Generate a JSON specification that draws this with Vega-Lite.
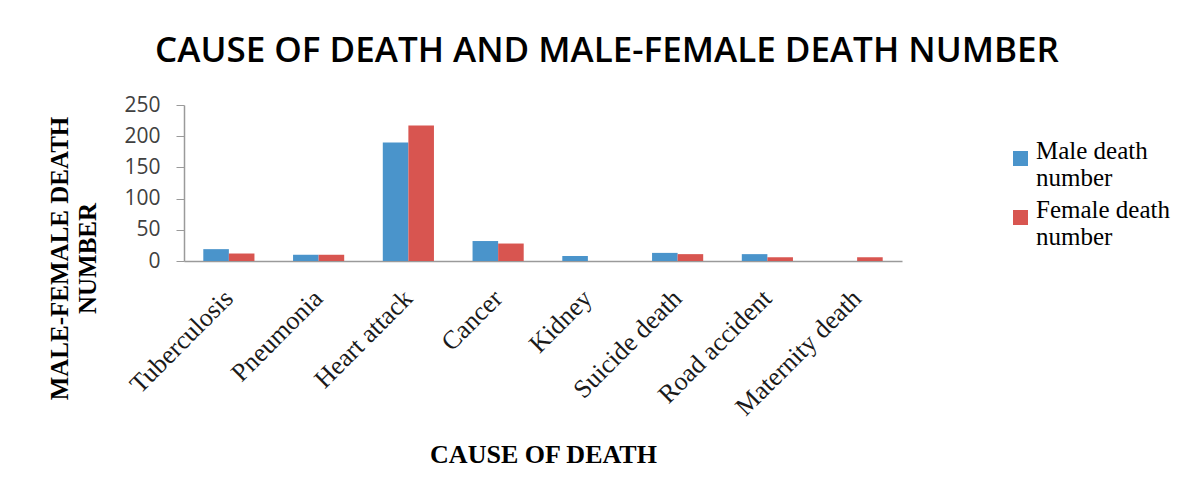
{
  "$schema": "https://vega.github.io/schema/vega-lite/v6.json",
  "autosize": {"type": "none"},
  "padding": {"left": 184, "top": 105, "right": 291, "bottom": 235},
  "width": 718,
  "height": 156,
  "background": "white",
  "title": {
    "text": "CAUSE OF DEATH AND MALE-FEMALE DEATH NUMBER",
    "font": "Open Sans",
    "fontSize": 35,
    "fontWeight": 600,
    "color": "#000000",
    "anchor": "middle",
    "baseline": "alphabetic",
    "dx": 64,
    "dy": 46,
    "offset": 43
  },
  "data": {
    "values": [
      {"cause": "Tuberculosis", "series": "Male death number", "deaths": 19},
      {"cause": "Tuberculosis", "series": "Female death number", "deaths": 12},
      {"cause": "Pneumonia", "series": "Male death number", "deaths": 10},
      {"cause": "Pneumonia", "series": "Female death number", "deaths": 10},
      {"cause": "Heart attack", "series": "Male death number", "deaths": 190},
      {"cause": "Heart attack", "series": "Female death number", "deaths": 217},
      {"cause": "Cancer", "series": "Male death number", "deaths": 32},
      {"cause": "Cancer", "series": "Female death number", "deaths": 28},
      {"cause": "Kidney", "series": "Male death number", "deaths": 8},
      {"cause": "Kidney", "series": "Female death number", "deaths": 0},
      {"cause": "Suicide death", "series": "Male death number", "deaths": 13},
      {"cause": "Suicide death", "series": "Female death number", "deaths": 11},
      {"cause": "Road accident", "series": "Male death number", "deaths": 11},
      {"cause": "Road accident", "series": "Female death number", "deaths": 6},
      {"cause": "Maternity death", "series": "Male death number", "deaths": 0},
      {"cause": "Maternity death", "series": "Female death number", "deaths": 6}
    ]
  },
  "mark": {"type": "bar"},
  "encoding": {
    "x": {
      "field": "cause",
      "type": "nominal",
      "sort": null,
      "scale": {"paddingInner": 0.43, "paddingOuter": 0.215},
      "axis": {
        "title": "CAUSE OF DEATH",
        "titleFont": "Liberation Serif",
        "titleFontSize": 26,
        "titleFontWeight": "bold",
        "titleColor": "#000000",
        "titleX": 359,
        "titleY": 193,
        "titleBaseline": "middle",
        "titleAlign": "center",
        "labelFont": "Liberation Serif",
        "labelFontSize": 26,
        "labelColor": "#1a1a1a",
        "labelAngle": -45,
        "labelAlign": "right",
        "labelBaseline": "middle",
        "labelPadding": 33,
        "labelLimit": 400,
        "ticks": false,
        "domainColor": "#9a9a9a",
        "domainWidth": 1.5
      }
    },
    "xOffset": {
      "field": "series",
      "type": "nominal",
      "sort": ["Male death number", "Female death number"],
      "scale": {"paddingInner": 0, "paddingOuter": 0}
    },
    "y": {
      "field": "deaths",
      "type": "quantitative",
      "scale": {"domain": [0, 250], "nice": false},
      "axis": {
        "values": [0, 50, 100, 150, 200, 250],
        "grid": false,
        "title": ["MALE-FEMALE DEATH", "NUMBER"],
        "titleFont": "Liberation Serif",
        "titleFontSize": 25,
        "titleFontWeight": "bold",
        "titleColor": "#000000",
        "titleLineHeight": 28,
        "titleAngle": -90,
        "titleX": -125,
        "titleY": 153,
        "titleAlign": "center",
        "titleBaseline": "middle",
        "labelFont": "Open Sans",
        "labelFontSize": 21,
        "labelColor": "#404040",
        "labelPadding": 16,
        "tickSize": 8,
        "tickColor": "#9a9a9a",
        "domainColor": "#9a9a9a",
        "domainWidth": 1.5
      }
    },
    "color": {
      "field": "series",
      "type": "nominal",
      "scale": {
        "domain": ["Male death number", "Female death number"],
        "range": ["#4A94CB", "#D85550"]
      },
      "legend": {
        "title": null,
        "orient": "none",
        "legendX": 824,
        "legendY": 41,
        "padding": 0,
        "symbolType": "square",
        "symbolSize": 225,
        "symbolStrokeWidth": 0,
        "labelFont": "Liberation Serif",
        "labelFontSize": 25,
        "labelColor": "#000000",
        "labelBaseline": "alphabetic",
        "labelLineHeight": 28,
        "labelOffset": 3,
        "labelLimit": 300,
        "rowPadding": 6,
        "labelExpr": "datum.label == 'Male death number' ? ['Male death', 'number'] : ['Female death', 'number']"
      }
    }
  },
  "config": {
    "view": {"stroke": null}
  }
}
